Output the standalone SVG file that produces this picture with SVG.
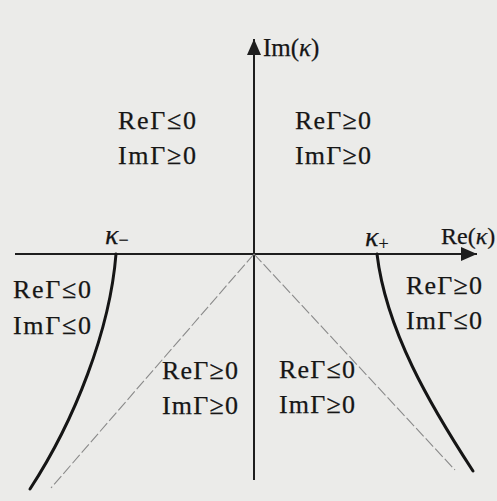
<svg xmlns="http://www.w3.org/2000/svg" width="497" height="501" viewBox="0 0 497 501">
<style>
text{font-family:"Liberation Serif","Times New Roman",serif;fill:#161616;stroke:#161616;stroke-width:0.25;}
.lb{font-size:26px;}
.ax{stroke:#1e1e1e;stroke-width:2;fill:none;}
.cv{stroke:#151515;stroke-width:3;fill:none;stroke-linecap:round;}
.ds{stroke:#8a8a8a;stroke-width:1.1;fill:none;stroke-dasharray:11 3;}
.k{font-style:italic;}
</style>
<defs>
<marker id="ah" viewBox="0 0 16 14" refX="16" refY="7" markerWidth="16" markerHeight="14" markerUnits="userSpaceOnUse" orient="auto">
<path d="M0,0 L16,7 L0,14 z" fill="#1e1e1e"/>
</marker>
</defs>
<rect width="497" height="501" fill="#ebebe9"/>
<g id="connectors">
<line class="ax" x1="15" y1="254" x2="477" y2="254" marker-end="url(#ah)"/>
<line class="ax" x1="254" y1="480" x2="254" y2="39" marker-end="url(#ah)"/>
<path class="cv" d="M116,254 C110,330 75,420 30,489"/>
<path class="cv" d="M377,254 C386,330 430,405 473,471"/>
<line class="ds" x1="254" y1="254" x2="51" y2="488"/>
<line class="ds" x1="254" y1="254" x2="455" y2="470"/>
</g>
<g id="axis-labels">
<text x="263" y="56" font-size="25">Im(<tspan class="k">κ</tspan>)</text>
<text x="441" y="244" font-size="24">Re(<tspan class="k">κ</tspan>)</text>
<text x="105" y="244" class="k" font-size="28">κ<tspan font-size="18" font-style="normal" dy="2">−</tspan></text>
<text x="365" y="246" class="k" font-size="28">κ<tspan font-size="18" font-style="normal" dy="4">+</tspan></text>
</g>
<g id="region-top-left" class="lb">
<text x="118" y="129" textLength="78" lengthAdjust="spacing">ReΓ≤0</text>
<text x="118" y="164" textLength="78" lengthAdjust="spacing">ImΓ≥0</text>
</g>
<g id="region-top-right" class="lb">
<text x="295" y="129" textLength="76" lengthAdjust="spacing">ReΓ≥0</text>
<text x="295" y="164" textLength="76" lengthAdjust="spacing">ImΓ≥0</text>
</g>
<g id="region-left" class="lb">
<text x="13" y="298" textLength="78" lengthAdjust="spacing">ReΓ≤0</text>
<text x="13" y="334" textLength="78" lengthAdjust="spacing">ImΓ≤0</text>
</g>
<g id="region-right" class="lb">
<text x="406" y="294" textLength="76" lengthAdjust="spacing">ReΓ≥0</text>
<text x="406" y="329" textLength="76" lengthAdjust="spacing">ImΓ≤0</text>
</g>
<g id="region-bottom-left" class="lb">
<text x="162" y="379" textLength="76" lengthAdjust="spacing">ReΓ≥0</text>
<text x="162" y="414" textLength="76" lengthAdjust="spacing">ImΓ≥0</text>
</g>
<g id="region-bottom-right" class="lb">
<text x="279" y="378" textLength="76" lengthAdjust="spacing">ReΓ≤0</text>
<text x="279" y="413" textLength="76" lengthAdjust="spacing">ImΓ≥0</text>
</g>
</svg>
